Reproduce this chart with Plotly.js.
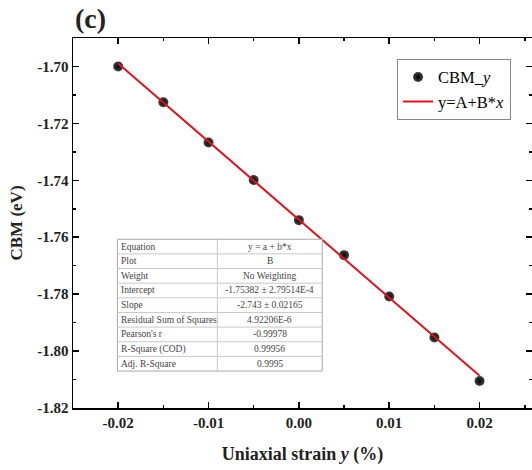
<!DOCTYPE html>
<html>
<head>
<meta charset="utf-8">
<script src="https://cdn.plot.ly/plotly-3.0.1.min.js"></script>
<style>html,body{margin:0;padding:0;background:#fff;}#chart{width:532px;height:470px;}</style>
</head>
<body>
<div id="chart"></div>
<script>
// ---- data ----
const strain = [-0.02, -0.015, -0.01, -0.005, 0.0, 0.005, 0.01, 0.015, 0.02];
const cbm = [-1.7000, -1.7126, -1.7267, -1.7399, -1.7540, -1.7663, -1.7808, -1.7952, -1.8105];
const fitIntercept = -1.75382;
const fitSlope = -2.743;
const fitX = [-0.02, 0.02];
const xTickVals = [-0.02, -0.01, 0.00, 0.01, 0.02];
const xTickText = ['-0.02', '-0.01', '0.00', '0.01', '0.02'];
const yTickVals = [-1.82, -1.80, -1.78, -1.76, -1.74, -1.72, -1.70];
const yTickText = ['-1.82', '-1.80', '-1.78', '-1.76', '-1.74', '-1.72', '-1.70'];
const tableLabels = ['Equation', 'Plot', 'Weight', 'Intercept', 'Slope', 'Residual Sum of Squares', "Pearson's r", 'R-Square (COD)', 'Adj. R-Square'];
const tableValues = ['y = a + b*x', 'B', 'No Weighting', '-1.75382 ± 2.79514E-4', '-2.743 ± 0.02165', '4.92206E-6', '-0.99978', '0.99956', '0.9995'];

const fitY = fitX.map(x => fitIntercept + fitSlope * x);

const serif = 'Liberation Serif';

// plot-area geometry (pixels) used to place the inset table in paper coords
const W = 532, H = 470, ML = 72.5, MR = 0, MT = 37.5, MB = 62;
const PW = W - ML - MR, PH = H - MT - MB;
const px = v => (v - ML) / PW;
const py = v => (H - MB - v) / PH;
const tLeft = 117, tRight = 322, tMid = 217, tTop = 239, tBottom = 371;
const rowH = (tBottom - tTop) / tableLabels.length;

const shapes = [];
const annotations = [];
shapes.push({type: 'rect', xref: 'paper', yref: 'paper', x0: px(tLeft), x1: px(tRight), y0: py(tBottom), y1: py(tTop),
  line: {color: '#a8a8a8', width: 1}, fillcolor: '#fff', layer: 'above'});
for (let i = 1; i < tableLabels.length; i++) {
  const yy = py(tTop + i * rowH);
  shapes.push({type: 'line', xref: 'paper', yref: 'paper', x0: px(tLeft), x1: px(tRight), y0: yy, y1: yy,
    line: {color: '#c8c8c8', width: 1}, layer: 'above'});
}
shapes.push({type: 'line', xref: 'paper', yref: 'paper', x0: px(tMid), x1: px(tMid), y0: py(tBottom), y1: py(tTop),
  line: {color: '#c8c8c8', width: 1}, layer: 'above'});
tableLabels.forEach((lab, i) => {
  const yc = py(tTop + (i + 0.5) * rowH);
  annotations.push({xref: 'paper', yref: 'paper', x: px(tLeft + 2), y: yc, xanchor: 'left', yanchor: 'middle',
    text: lab, showarrow: false, font: {family: serif, size: 9.5, color: '#444'}});
  annotations.push({xref: 'paper', yref: 'paper', x: px((tMid + tRight) / 2), y: yc, xanchor: 'center', yanchor: 'middle',
    text: tableValues[i], showarrow: false, font: {family: serif, size: 9.5, color: '#444'}});
});
annotations.push({xref: 'paper', yref: 'paper', x: 0, y: 1, xanchor: 'left', yanchor: 'bottom', yshift: 2,
  text: '<b>(c)</b>', showarrow: false, font: {family: serif, size: 28, color: '#222'}});

const traces = [
  {
    type: 'scatter', mode: 'markers', x: strain, y: cbm,
    name: 'CBM_<i>y</i>', legendrank: 1,
    marker: {color: '#444', size: 10, gradient: {type: 'radial', color: '#000'}, line: {width: 0}}
  },
  {
    type: 'scatter', mode: 'lines', x: fitX, y: fitY,
    name: 'y=A+B*<i>x</i>', legendrank: 2,
    line: {color: '#e0141e', width: 2}
  }
];

const layout = {
  width: W, height: H,
  margin: {l: ML, r: MR, t: MT, b: MB, pad: 0},
  paper_bgcolor: '#fff', plot_bgcolor: '#fff',
  font: {family: serif, color: '#000'},
  shapes: shapes,
  annotations: annotations,
  showlegend: true,
  legend: {
    x: 0.706, y: 0.944, xanchor: 'left', yanchor: 'top',
    bordercolor: '#888', borderwidth: 1, bgcolor: '#fff',
    font: {family: serif, size: 16.5, color: '#000'},
    tracegroupgap: 0, itemwidth: 30
  },
  xaxis: {
    range: [-0.025, 0.0258],
    tickmode: 'array', tickvals: xTickVals, ticktext: xTickText,
    ticks: 'inside', ticklen: 6, tickwidth: 1.5, tickcolor: '#000',
    minor: {dtick: 0.005, tick0: 0, ticks: 'inside', ticklen: 3, tickwidth: 1.5, tickcolor: '#000', showgrid: false},
    showline: true, linecolor: '#000', linewidth: 1.5, mirror: 'ticks',
    showgrid: false, zeroline: false,
    tickfont: {family: serif, size: 15, color: '#222', weight: 'bold'},
    title: {text: '<b>Uniaxial strain <i>y</i> (%)</b>', font: {family: serif, size: 18, color: '#222'}, standoff: 18}
  },
  yaxis: {
    range: [-1.82, -1.69],
    tickmode: 'array', tickvals: yTickVals, ticktext: yTickText,
    ticks: 'inside', ticklen: 6, tickwidth: 1.5, tickcolor: '#000',
    minor: {dtick: 0.01, tick0: 0, ticks: 'inside', ticklen: 3, tickwidth: 1.5, tickcolor: '#000', showgrid: false},
    showline: true, linecolor: '#000', linewidth: 1.5, mirror: 'ticks',
    showgrid: false, zeroline: false,
    tickfont: {family: serif, size: 15, color: '#222', weight: 'bold'},
    title: {text: '<b>CBM (eV)</b>', font: {family: serif, size: 17, color: '#222'}, standoff: 10}
  }
};

Plotly.newPlot('chart', traces, layout, {displayModeBar: false, staticPlot: true});
</script>
</body>
</html>
